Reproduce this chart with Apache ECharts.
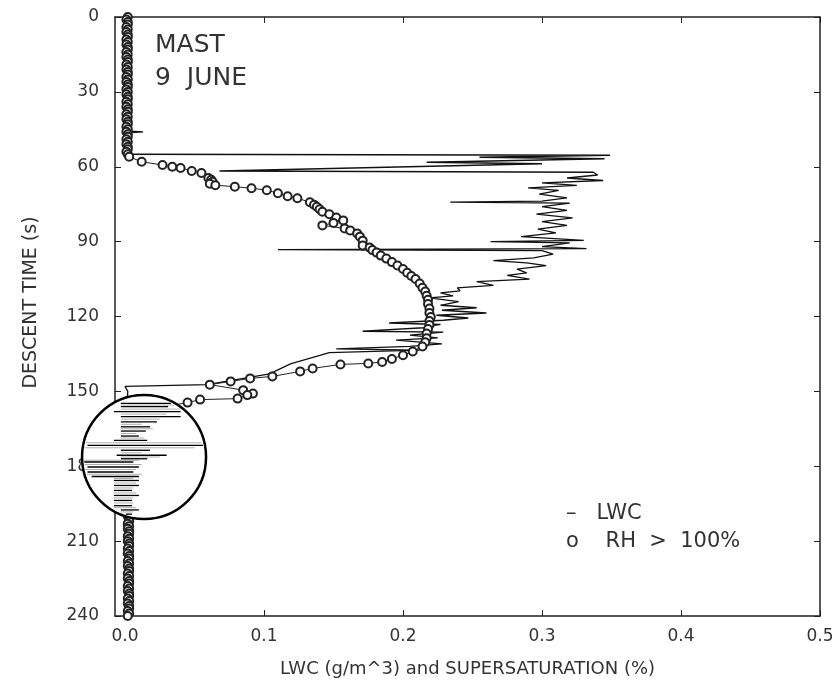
<!DOCTYPE html>
<html>
<head>
<meta charset="utf-8">
<script src="https://cdn.jsdelivr.net/npm/echarts@6/dist/echarts.min.js"></script>
<style>
  html, body { margin: 0; padding: 0; background: #fff; }
  #chart { width: 840px; height: 695px; }
</style>
</head>
<body>
<div id="chart"></div>
<script>
// LWC trace (g/m^3) against descent time (s)
var lwcTime = [0, 6, 12, 18, 24, 30, 36, 42, 45.6, 46, 46.4, 50, 54, 55, 55.4, 56.2, 56.8, 58.2, 58.8, 61.7, 62.2,
  63.3, 64.5, 65.5, 66.5, 67.5, 68.5, 69.5, 71, 72.5, 73.8, 74.2, 74.6, 76, 77.5, 79, 80.5, 82, 83.5, 85, 86.5,
  88, 89.5, 90, 90.5, 92, 92.8, 93.2, 93.6, 95, 96.5, 97.6, 98.5, 99.6, 101, 102.5, 103.5, 105, 106, 107.5,
  108.5, 109.7, 110.5, 111.7, 112.5, 114, 115.5, 116.5, 117.5, 118.6, 119.5, 120.6, 121.5, 122.6, 123.2, 124.5,
  125.9, 126.3, 127.5, 128.6, 129.5, 131, 132, 133, 133.5, 134.5, 139, 143, 147.3, 148, 150, 160, 170, 180,
  190, 200, 210, 220, 230, 240];
var lwcValue = [0.001, 0.002, 0.001, 0.002, 0.001, 0.002, 0.001, 0.002, 0.001, 0.013, 0.001, 0.002, 0.001, 0.004, 0.349, 0.255, 0.345, 0.217, 0.300, 0.068, 0.337,
  0.340, 0.318, 0.344, 0.300, 0.325, 0.290, 0.312, 0.298, 0.318, 0.300, 0.234, 0.320, 0.300, 0.318, 0.296, 0.322, 0.300, 0.318, 0.297, 0.310,
  0.285, 0.330, 0.263, 0.320, 0.300, 0.332, 0.110, 0.300, 0.308, 0.294, 0.265, 0.289, 0.303, 0.282, 0.289, 0.275, 0.291, 0.253, 0.265,
  0.239, 0.241, 0.227, 0.236, 0.219, 0.240, 0.227, 0.253, 0.228, 0.260, 0.224, 0.247, 0.229, 0.190, 0.227, 0.215,
  0.171, 0.229, 0.205, 0.225, 0.195, 0.228, 0.205, 0.152, 0.212, 0.147, 0.119, 0.104, 0.059, 0.000, 0.002, 0.001, 0.002, 0.001,
  0.002, 0.001, 0.002, 0.001, 0.002, 0.001];

// supersaturation (%) where RH > 100%
var rhTime = [0, 1, 2, 3, 4, 5, 6, 7, 8, 9, 10, 11, 12, 13, 14, 15, 16, 17, 18, 19, 20, 21, 22, 23, 24, 25, 26, 27, 28,
  29, 30, 31, 32, 33, 34, 35, 36, 37, 38, 39, 40, 41, 42, 43, 44, 45, 46, 47, 48, 49, 50, 51, 52, 53, 54, 55, 56,
  58, 59.3, 60, 60.5, 61.7, 62.5, 64.5, 65.2, 66, 66.8, 67.4, 68, 68.6, 69.4, 70.6, 71.8, 72.6, 74.2, 75.2, 76, 77, 78,
  79, 80.3, 81.5, 82.5, 83.5, 84.7, 85.5, 86.7, 88, 89.6, 91.6, 92.4, 93.4, 94.4, 95.6, 96.8, 98.2, 99.6, 101, 102.5,
  103.8, 105, 106.8, 108.5, 110, 111.7, 113.3, 115, 116.8, 118.6, 120.2, 121.8, 123.4, 125, 126.8, 128.7, 130.3, 132,
  134, 135.5, 137, 138.2, 138.8, 139.2, 140.8, 142, 144, 144.8, 146, 147.3, 149.5, 150.9, 151.5, 152.9, 153.3, 154.5,
  156, 157, 158, 159, 160, 161, 162, 163, 164, 165, 166, 167, 168, 169, 170, 171, 172, 173, 174, 175, 176, 177, 178,
  179, 180, 181, 182, 183, 184, 185, 186, 187, 188, 189, 190, 191, 192, 193, 194, 195, 196, 197, 198, 199, 200, 201,
  202, 203, 204, 205, 206, 207, 208, 209, 210, 211, 212, 213, 214, 215, 216, 217, 218, 219, 220, 221, 222, 223, 224,
  225, 226, 227, 228, 229, 230, 231, 232, 233, 234, 235, 236, 237, 238, 239, 240];
var rhValue = [0.002, 0.001, 0.002, 0.002, 0.001, 0.002, 0.001, 0.002, 0.002, 0.001, 0.002, 0.001, 0.002, 0.002, 0.001,
  0.002, 0.001, 0.002, 0.002, 0.001, 0.002, 0.001, 0.002, 0.002, 0.001, 0.002, 0.001, 0.002, 0.002, 0.001, 0.002,
  0.001, 0.002, 0.002, 0.001, 0.002, 0.001, 0.002, 0.002, 0.001, 0.002, 0.001, 0.002, 0.002, 0.001, 0.002, 0.001,
  0.002, 0.002, 0.001, 0.002, 0.001, 0.002, 0.002, 0.001, 0.002, 0.003,
  0.012, 0.027, 0.034, 0.040, 0.048, 0.055, 0.060, 0.062, 0.063, 0.061, 0.065, 0.079, 0.091, 0.102, 0.110, 0.117, 0.124, 0.133, 0.136, 0.138, 0.140, 0.142,
  0.147, 0.152, 0.157, 0.150, 0.142, 0.158, 0.162, 0.167, 0.169, 0.171, 0.171, 0.176, 0.178, 0.181, 0.184, 0.188, 0.192, 0.196, 0.200, 0.203,
  0.206, 0.209, 0.212, 0.214, 0.216, 0.217, 0.218, 0.218, 0.219, 0.219, 0.220, 0.219, 0.219, 0.218, 0.217, 0.217, 0.216, 0.214,
  0.207, 0.200, 0.192, 0.185, 0.175, 0.155, 0.135, 0.126, 0.106, 0.090, 0.076, 0.061, 0.085, 0.092, 0.088, 0.081, 0.054, 0.045,
  0.030, 0.015, 0.004, 0.003, 0.002, 0.003, 0.003, 0.002, 0.003, 0.002, 0.003, 0.003, 0.002, 0.003, 0.002, 0.003, 0.003,
  0.002, 0.003, 0.002, 0.003, 0.003, 0.002, 0.003, 0.002, 0.003, 0.003, 0.002, 0.003, 0.002, 0.003, 0.003, 0.002, 0.003,
  0.002, 0.003, 0.003, 0.002, 0.003, 0.002, 0.003, 0.003, 0.002, 0.003, 0.002, 0.003, 0.003, 0.002, 0.003, 0.002, 0.003,
  0.003, 0.002, 0.003, 0.002, 0.003, 0.003, 0.002, 0.003, 0.002, 0.003, 0.003, 0.002, 0.003, 0.002, 0.003, 0.003, 0.002,
  0.003, 0.002, 0.003, 0.003, 0.002, 0.003, 0.002, 0.003, 0.003, 0.002, 0.003, 0.002, 0.003, 0.003, 0.002, 0.003, 0.002];

// strokes seen inside the circle: dark ones, then faint ones (time, start, end)
var zoomTime = [154.8, 156.1, 158.1, 160.1, 162.2, 164.2, 165.9, 167.9, 169.6, 171.6, 173.6, 175.6, 177.0, 178.3,
  180.3, 182.3, 184.1, 185.7, 187.7, 189.7, 191.7, 193.7, 195.8, 197.5, 199.2];
var zoomStart = [-0.003, -0.003, -0.008, -0.003, -0.003, -0.003, -0.003, -0.003, -0.008, -0.027, -0.003, -0.006, -0.003, -0.030,
  -0.027, -0.027, -0.024, -0.008, -0.008, -0.008, -0.008, -0.008, -0.008, -0.003, -0.003];
var zoomEnd = [0.035, 0.031, 0.040, 0.040, 0.023, 0.018, 0.015, 0.010, 0.016, 0.060, 0.018, 0.030, 0.016, 0.006,
  0.010, 0.006, 0.010, 0.010, 0.010, 0.005, 0.010, 0.005, 0.005, 0.010, 0.005];
var faintTime = [155.5, 157.1, 159.1, 161.1, 163.2, 165.0, 166.9, 168.7, 170.6, 172.6, 174.6, 176.3, 177.6, 179.3,
  181.3, 183.2, 184.9, 186.7, 188.7, 190.7, 192.7, 194.7, 196.6, 198.3];
var faintStart = [-0.003, -0.003, -0.003, -0.003, -0.003, -0.003, -0.003, -0.003, -0.030, -0.030, -0.003, -0.003, -0.030, -0.030,
  -0.030, -0.030, -0.008, -0.008, -0.008, -0.008, -0.008, -0.008, -0.008, -0.003];
var faintEnd = [0.045, 0.050, 0.030, 0.025, 0.012, 0.020, 0.008, 0.014, 0.055, 0.050, 0.012, 0.025, 0.010, 0.012,
  0.008, 0.012, 0.006, 0.008, 0.006, 0.008, 0.006, 0.006, 0.008, 0.006];

var xTicks = [0, 0.1, 0.2, 0.3, 0.4, 0.5];

var lensCenter = [0.0137, 176.3];
var lensRadius = 62;

var chart = echarts.init(document.getElementById('chart'), null, { renderer: 'canvas' });

var ink = '#222';
var labelFont = { fontFamily: 'DejaVu Sans', fontSize: 17, color: '#333' };

function frameX(pos, showLabel) {
  return {
    type: 'value', position: pos, min: -0.0072, max: 0.5,
    axisLine: { show: true, onZero: false, lineStyle: { color: ink, width: 1.5 } },
    axisTick: { show: true, inside: true, length: 6, customValues: xTicks, lineStyle: { color: ink } },
    axisLabel: Object.assign({
      show: showLabel, customValues: xTicks, margin: 12,
      formatter: function (v) { return v.toFixed(1); }
    }, labelFont),
    splitLine: { show: false }
  };
}
function frameY(pos, showLabel) {
  return {
    type: 'value', position: pos, min: 0, max: 240, interval: 30, inverse: true,
    axisLine: { show: true, onZero: false, lineStyle: { color: ink, width: 1.5 } },
    axisTick: { show: true, inside: true, length: 6, lineStyle: { color: ink } },
    axisLabel: Object.assign({ show: showLabel, margin: 16 }, labelFont),
    splitLine: { show: false }
  };
}

var xBottom = frameX('bottom', true);
xBottom.name = 'LWC (g/m^3) and SUPERSATURATION (%)';
xBottom.nameLocation = 'middle';
xBottom.nameGap = 44;
xBottom.nameTextStyle = { fontFamily: 'DejaVu Sans', fontSize: 18, color: '#333' };

var yLeft = frameY('left', true);
yLeft.name = 'DESCENT TIME (s)';
yLeft.nameLocation = 'middle';
yLeft.nameGap = 74;
yLeft.nameTextStyle = { fontFamily: 'DejaVu Sans', fontSize: 19, color: '#333', padding: [0, 0, 0, 28] };

// horizontal strokes inside the lens, clipped to its rim
function lensStrokes(color, width) {
  return function (params, api) {
    var c = api.coord(lensCenter);
    var p0 = api.coord([api.value(0), api.value(1)]);
    var p1 = api.coord([api.value(2), api.value(1)]);
    var dy = p0[1] - c[1];
    var r = lensRadius - 2;
    if (Math.abs(dy) >= r) return null;
    var hw = Math.sqrt(r * r - dy * dy);
    var x0 = Math.max(p0[0], c[0] - hw);
    var x1 = Math.min(p1[0], c[0] + hw);
    if (x1 <= x0) return null;
    return {
      type: 'line',
      shape: { x1: x0, y1: p0[1], x2: x1, y2: p0[1] },
      style: { stroke: color, lineWidth: width }
    };
  };
}

chart.setOption({
  animation: false,
  backgroundColor: '#fff',
  grid: { left: 115, top: 17, width: 705, height: 599 },
  xAxis: [xBottom, frameX('top', false)],
  yAxis: [yLeft, frameY('right', false)],
  graphic: [
    { type: 'text', left: 155, top: 33, style: { text: 'MAST', fontFamily: 'DejaVu Sans', fontSize: 25, fill: '#333' } },
    { type: 'text', left: 155, top: 66, style: { text: '9  JUNE', fontFamily: 'DejaVu Sans', fontSize: 25, fill: '#333' } },
    { type: 'text', left: 566, top: 503, style: { text: '–   LWC', fontFamily: 'DejaVu Sans', fontSize: 21, fill: '#333' } },
    { type: 'text', left: 566, top: 531, style: { text: 'o    RH  >  100%', fontFamily: 'DejaVu Sans', fontSize: 21, fill: '#333' } }
  ],
  series: [
    {
      name: 'LWC', type: 'line', z: 3,
      data: lwcTime.map(function (t, i) { return [lwcValue[i], t]; }),
      showSymbol: false, symbol: 'none',
      lineStyle: { color: '#111', width: 1.3 }
    },
    {
      name: 'RH > 100%', type: 'line', z: 4,
      data: rhTime.map(function (t, i) { return [rhValue[i], t]; }),
      symbol: 'emptyCircle', symbolSize: 8, showAllSymbol: true,
      itemStyle: { color: '#222', borderWidth: 1.1 },
      lineStyle: { color: '#222', width: 1 }
    },
    {
      // white lens with black rim
      type: 'custom', z: 10, clip: false, silent: true,
      data: [lensCenter],
      renderItem: function (params, api) {
        var c = api.coord([api.value(0), api.value(1)]);
        return {
          type: 'circle',
          shape: { cx: c[0], cy: c[1], r: lensRadius },
          style: { fill: '#fff', stroke: '#000', lineWidth: 2.5 }
        };
      }
    },
    {
      type: 'custom', z: 11, clip: false, silent: true,
      data: faintTime.map(function (t, i) { return [faintStart[i], t, faintEnd[i]]; }),
      renderItem: lensStrokes('#999', 0.8)
    },
    {
      type: 'custom', z: 12, clip: false, silent: true,
      data: zoomTime.map(function (t, i) { return [zoomStart[i], t, zoomEnd[i]]; }),
      renderItem: lensStrokes('#000', 1.3)
    }
  ]
});
</script>
</body>
</html>
